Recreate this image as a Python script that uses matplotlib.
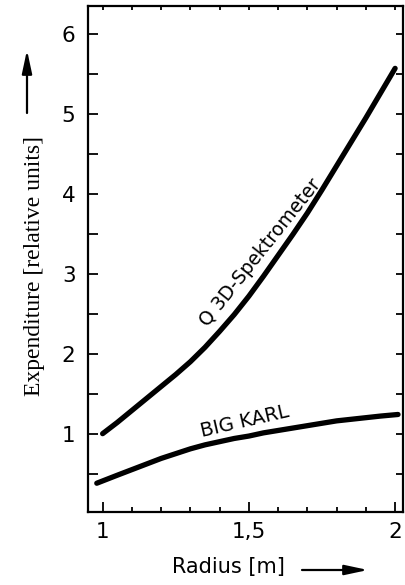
import matplotlib
matplotlib.use('Agg')
import matplotlib.pyplot as plt
from matplotlib.ticker import MultipleLocator, FuncFormatter
from matplotlib.patches import FancyArrowPatch

# values
radius = [1.0, 1.05, 1.1, 1.15, 1.2, 1.25, 1.3, 1.35, 1.4, 1.45, 1.5,
          1.55, 1.6, 1.65, 1.7, 1.75, 1.8, 1.85, 1.9, 1.95, 2.0]
q3d = [1.0, 1.14, 1.29, 1.44, 1.59, 1.74, 1.90, 2.08, 2.28, 2.49, 2.72,
       2.97, 3.23, 3.49, 3.76, 4.05, 4.35, 4.65, 4.95, 5.26, 5.57]

radius_bk = [0.98, 1.05, 1.1, 1.15, 1.2, 1.25, 1.3, 1.35, 1.4, 1.45, 1.5,
             1.55, 1.6, 1.65, 1.7, 1.75, 1.8, 1.85, 1.9, 1.95, 2.01]
bigkarl = [0.38, 0.48, 0.55, 0.62, 0.69, 0.75, 0.81, 0.86, 0.90, 0.94, 0.97,
           1.01, 1.04, 1.07, 1.10, 1.13, 1.16, 1.18, 1.20, 1.22, 1.24]

xticks = [1.0, 1.5, 2.0]
xticklabels = ['1', '1,5', '2']


def label_fmt(v, pos):
    if abs(v - round(v)) < 1e-6 and v >= 1:
        return str(int(round(v)))
    return ''


fig = plt.figure(figsize=(4.06, 5.85), dpi=100)
ax = fig.add_axes([88 / 406, 1 - 512 / 585, 315 / 406, 506 / 585])

ax.plot(radius, q3d, color='black', lw=3.8, solid_capstyle='round', solid_joinstyle='round')
ax.plot(radius_bk, bigkarl, color='black', lw=3.8, solid_capstyle='round', solid_joinstyle='round')

ax.set_xlim(0.95, 2.027)
ax.set_ylim(0.02, 6.35)

for s in ax.spines.values():
    s.set_linewidth(1.6)

# left and bottom ticks
ax.yaxis.set_major_locator(MultipleLocator(0.5))
ax.yaxis.set_major_formatter(FuncFormatter(label_fmt))
ax.set_xticks(xticks)
ax.set_xticklabels(xticklabels)
ax.xaxis.set_minor_locator(MultipleLocator(0.1))
ax.tick_params(axis='y', which='major', direction='in', length=7.5, width=1.3,
               pad=9, labelsize=15.5)
ax.tick_params(axis='x', which='major', direction='in', length=7, width=1.3,
               pad=7, labelsize=15.5)
ax.tick_params(axis='x', which='minor', direction='in', length=3.5, width=1.3)

# right ticks
axr = ax.twinx()
axr.set_ylim(ax.get_ylim())
axr.yaxis.set_major_locator(MultipleLocator(0.5))
axr.tick_params(axis='y', direction='in', length=5, width=1.3, labelright=False)
for s in axr.spines.values():
    s.set_visible(False)

# top ticks
axt = ax.twiny()
axt.set_xlim(ax.get_xlim())
axt.xaxis.set_major_locator(MultipleLocator(0.1))
axt.tick_params(axis='x', direction='in', length=3, width=1.3, labeltop=False)
for s in axt.spines.values():
    s.set_visible(False)

# curve labels
ax.text(1.538, 3.26, 'Q 3D-Spektrometer', rotation=51.5, fontsize=13.5,
        ha='center', va='center', rotation_mode='anchor')
ax.text(1.486, 1.15, 'BIG KARL', rotation=13, fontsize=14,
        ha='center', va='center', rotation_mode='anchor')

# axis titles with arrows
arrow = '-|>,head_length=1.4,head_width=0.3'
fig.text(35 / 406, 1 - 266 / 585, 'Expenditure [relative units]', rotation=90,
         family='Liberation Serif', fontsize=17, ha='center', va='center')
fig.add_artist(FancyArrowPatch((27 / 406, 1 - 113 / 585), (27 / 406, 1 - 50 / 585),
                               transform=fig.transFigure, arrowstyle=arrow,
                               lw=1.6, color='black', mutation_scale=10,
                               shrinkA=0, shrinkB=0))
fig.text(228 / 406, 1 - 567 / 585, 'Radius [m]', fontsize=15,
         ha='center', va='center')
fig.add_artist(FancyArrowPatch((302 / 406, 1 - 570 / 585), (368 / 406, 1 - 570 / 585),
                               transform=fig.transFigure, arrowstyle=arrow,
                               lw=1.6, color='black', mutation_scale=10,
                               shrinkA=0, shrinkB=0))

fig.savefig('out.png', dpi=100)
